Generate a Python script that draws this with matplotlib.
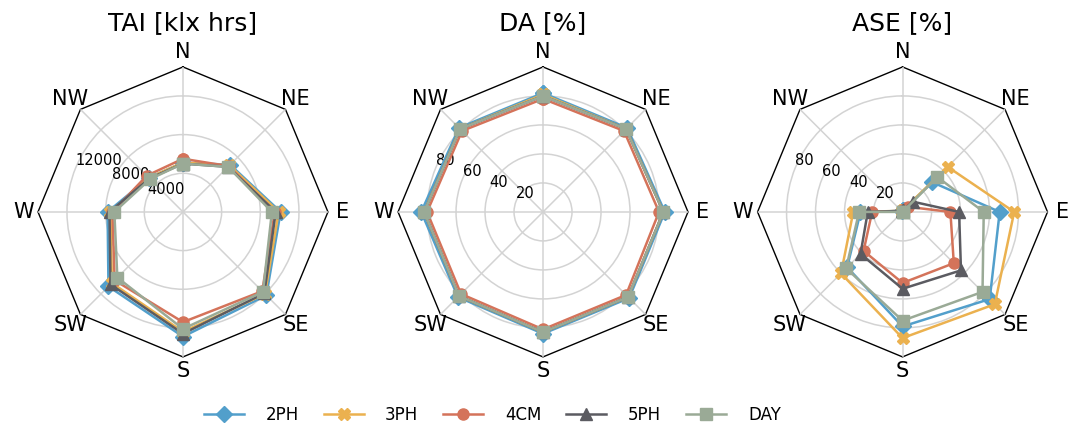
import numpy as np
import matplotlib
matplotlib.use("Agg")
import matplotlib.pyplot as plt
from matplotlib.lines import Line2D

# Orientations (clockwise from north)
directions = ["N", "NE", "E", "SE", "S", "SW", "W", "NW"]
series_names = ["2PH", "3PH", "4CM", "5PH", "DAY"]

# TAI [klx hrs]
tai_2ph = [5100, 6900, 10100, 12200, 12900, 10900, 7800, 5000]
tai_3ph = [5100, 6800, 9900, 12000, 12400, 10400, 7500, 5000]
tai_4cm = [5500, 6700, 9500, 11600, 11400, 10000, 7300, 5300]
tai_5ph = [5000, 6600, 9600, 11900, 12600, 10600, 7600, 4900]
tai_day = [5000, 6600, 9200, 11700, 12100, 9600, 7100, 4800]

# DA [%]
da_2ph = [82, 82, 84, 84, 84, 83, 84, 82]
da_3ph = [81, 81, 83, 83, 83, 82, 82, 81]
da_4cm = [78, 79, 80, 81, 81, 80, 80, 79]
da_5ph = [80, 81, 83, 83, 83, 82, 82, 81]
da_day = [80, 81, 83, 83, 83, 82, 82, 81]

# ASE [%]
ase_2ph = [1, 29, 67, 85, 79, 54, 29, 1]
ase_3ph = [1, 44, 77, 90, 87, 60, 34, 1]
ase_4cm = [1, 5, 33, 50, 49, 38, 21, 1]
ase_5ph = [1, 10, 39, 57, 53, 41, 24, 1]
ase_day = [0, 34, 56, 78, 75, 55, 30, 0]

titles = ["TAI [klx hrs]", "DA [%]", "ASE [%]"]
rmax = [15000, 100, 100]
rgrids = [[4000, 8000, 12000], [20, 40, 60, 80], [20, 40, 60, 80]]

colors = ["#529fcb", "#ebb14f", "#d4735a", "#5b5b61", "#9aaa96"]
markers = ["D", "X", "o", "^", "s"]

panels = [
    [tai_2ph, tai_3ph, tai_4cm, tai_5ph, tai_day],
    [da_2ph, da_3ph, da_4cm, da_5ph, da_day],
    [ase_2ph, ase_3ph, ase_4cm, ase_5ph, ase_day],
]

fig = plt.figure(figsize=(10.7, 4.29), dpi=100)

n = len(directions)
theta = np.linspace(0, 2 * np.pi, n, endpoint=False)
theta_closed = np.append(theta, theta[0])

lefts = [0.0355, 0.372, 0.708]
for i, (left, data) in enumerate(zip(lefts, panels)):
    ax = fig.add_axes([left, 0.168, 0.271, 0.676], projection="polar")
    ax.set_theta_zero_location("N")
    ax.set_theta_direction(-1)
    ax.set_ylim(0, rmax[i])
    ax.spines["polar"].set_visible(False)
    ax.patch.set_visible(False)
    ax.grid(True, color="#d3d3d3", linewidth=1.1)

    ax.set_thetagrids(np.degrees(theta), directions, fontsize=15)
    ax.tick_params(axis="x", pad=0)
    ax.set_rgrids(rgrids[i], [str(v) for v in rgrids[i]], fontsize=10.5)
    ax.set_rlabel_position(292.5)

    # octagonal frame
    ax.plot(theta_closed, [rmax[i]] * (n + 1), color="black", linewidth=1.0,
            clip_on=False, zorder=1)

    for vals, c, m in zip(data, colors, markers):
        v = np.append(vals, vals[0])
        ax.plot(theta_closed, v, color=c, marker=m, markersize=8,
                linewidth=1.8, zorder=3, clip_on=False)

    ax.text(0.5, 1.128, titles[i], transform=ax.transAxes, ha="center",
            va="baseline", fontsize=18)

handles = [Line2D([], [], color=c, marker=m, markersize=8, linewidth=1.8)
           for c, m in zip(colors, markers)]
fig.legend(handles, series_names, loc="center", bbox_to_anchor=(0.46, 0.033),
           ncol=5, frameon=False, fontsize=12, handlelength=2.4,
           handletextpad=1.3, columnspacing=1.5)

fig.savefig("out.png", dpi=100)
